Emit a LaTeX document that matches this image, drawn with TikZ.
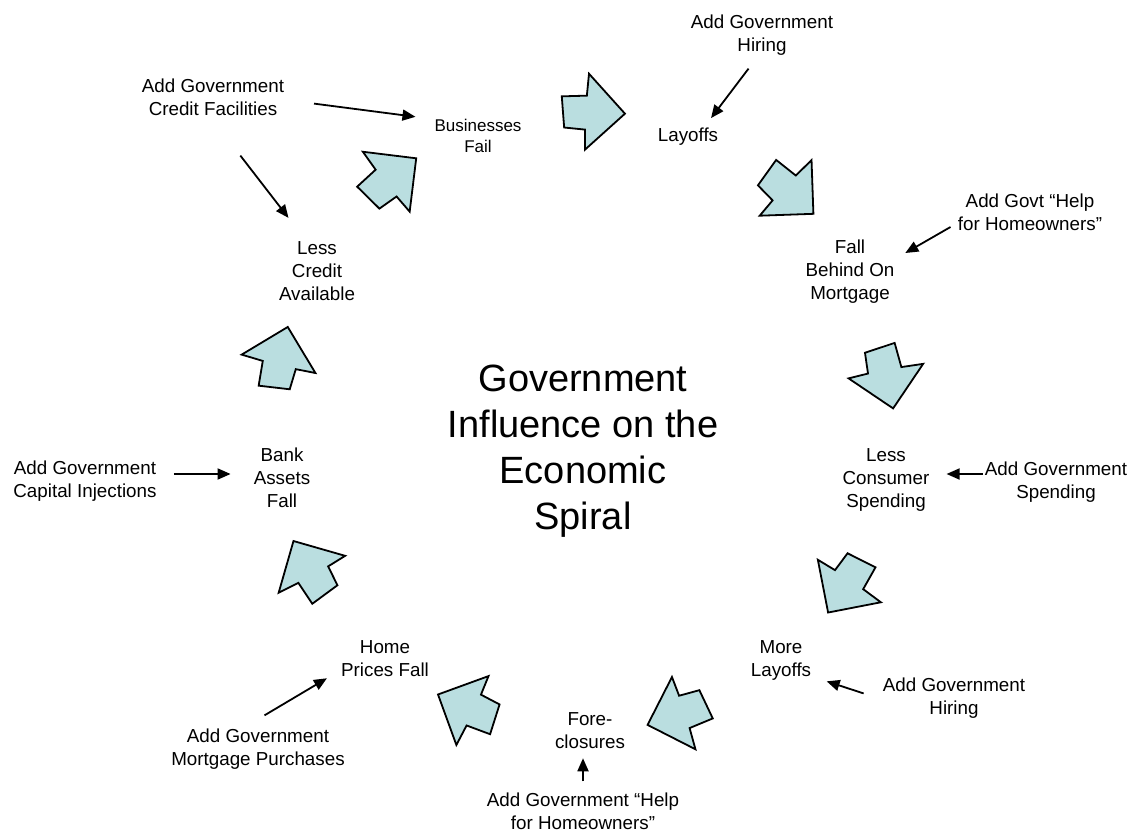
\documentclass[tikz,border=0pt]{standalone}
\usepackage{fontspec}
\setmainfont{Liberation Sans}
\usetikzlibrary{arrows.meta}
\definecolor{spiralfill}{RGB}{186,222,224}

\begin{document}
\begin{tikzpicture}[x=1pt, y=-1pt,
  stage/.style={align=center, inner sep=2pt, font=\fontsize{18.8}{23}\selectfont},
  policy/.style={stage},
  ctrl/.style={-{Triangle[length=13pt,width=11pt]}, line width=1.8pt},
  spiral/.style={draw=black, line width=1.8pt, fill=spiralfill}
]
  \useasboundingbox (0,0) rectangle (1132,832);

  % Centre title
  \node[align=center, font=\fontsize{38}{46}\selectfont] (title) at (583,451)
    {Government\\Influence on the\\Economic\\Spiral};

  % Stages of the spiral (clockwise from the top)
  \node[stage, font=\fontsize{17}{21}\selectfont] (busfail) at (478,136) {Businesses\\Fail};
  \node[stage] (layoffs) at (688,137) {Layoffs};
  \node[stage] (fallbehind) at (850,272) {Fall\\Behind On\\Mortgage};
  \node[stage] (lessspend) at (886,480) {Less\\Consumer\\Spending};
  \node[stage] (morelayoffs) at (781,660) {More\\Layoffs};
  \node[stage] (foreclose) at (590,731) {Fore-\\closures};
  \node[stage] (homeprices) at (385,659) {Home\\Prices Fall};
  \node[stage] (bankfall) at (282,478) {Bank\\Assets\\Fall};
  \node[stage] (lesscredit) at (317,271) {Less\\Credit\\Available};

  % Government measures
  \node[policy] (gcredit) at (213,97) {Add Government\\Credit Facilities};
  \node[policy] (ghire1) at (762,35) {Add Government\\Hiring};
  \node[policy] (ghelp1) at (1030,212) {Add Govt ``Help\\for Homeowners''};
  \node[policy] (gspend) at (1056,482) {Add Government\\Spending};
  \node[policy] (ghire2) at (954,698) {Add Government\\Hiring};
  \node[policy] (ghelp2) at (583,811) {Add Government ``Help\\for Homeowners''};
  \node[policy] (gmortgage) at (258,749) {Add Government\\Mortgage Purchases};
  \node[policy] (gcapital) at (85,481) {Add Government\\Capital Injections};

  % Block arrows round the spiral: x / y / direction
  \foreach \x/\y/\a in {593/112/-3, 391/178/38, 790/192/-43, 887/377/-79,
                        846/586/236, 678/715/198, 467/708/155, 309/569/119, 280/358/76}
    \draw[spiral, shift={(\x,\y)}, rotate=\a]
      (-32pt,14pt) -- (-7pt,16pt) -- (-6pt,38pt) -- (32pt,0pt) -- (-6pt,-38pt)
      -- (-7pt,-18pt) -- (-28pt,-17pt) -- cycle;

  % Where each measure acts
  \draw[ctrl, shorten <=28pt, shorten >=17pt]
    ([yshift=-3pt]gcredit.east) -- ([yshift=17pt]busfail.west);
  \draw[ctrl, shorten <=48pt, shorten >=27pt]
    ([xshift=-2pt]gcredit.south) -- ([xshift=-12pt]lesscredit.north);
  \draw[ctrl, shorten <=14pt, shorten >=10pt]
    ([xshift=-5pt]ghire1.south) -- ([xshift=17pt]layoffs.north);
  \draw[ctrl, shorten <=6pt, shorten >=10pt]
    ([yshift=-12pt]ghelp1.west) -- ([yshift=14pt]fallbehind.east);
  \draw[ctrl, shorten >=15pt]
    ([yshift=8pt]gspend.west) -- ([yshift=6pt]lessspend.east);
  \draw[ctrl, shorten <=18pt, shorten >=14pt]
    ([yshift=-1pt]ghire2.west) -- ([yshift=-17pt]morelayoffs.east);
  \draw[ctrl, shorten <=9pt, shorten >=7pt]
    (ghelp2.north) -- (ghelp2.north |- foreclose.south);
  \draw[ctrl, shorten <=18pt]
    ([xshift=-9pt,yshift=2pt]gmortgage.north) -- ([xshift=-12pt,yshift=1pt]homeprices.south west);
  \draw[ctrl, shorten <=15pt, shorten >=21pt]
    ([yshift=7pt]gcapital.east) -- ([yshift=4pt]bankfall.west);
\end{tikzpicture}
\end{document}
